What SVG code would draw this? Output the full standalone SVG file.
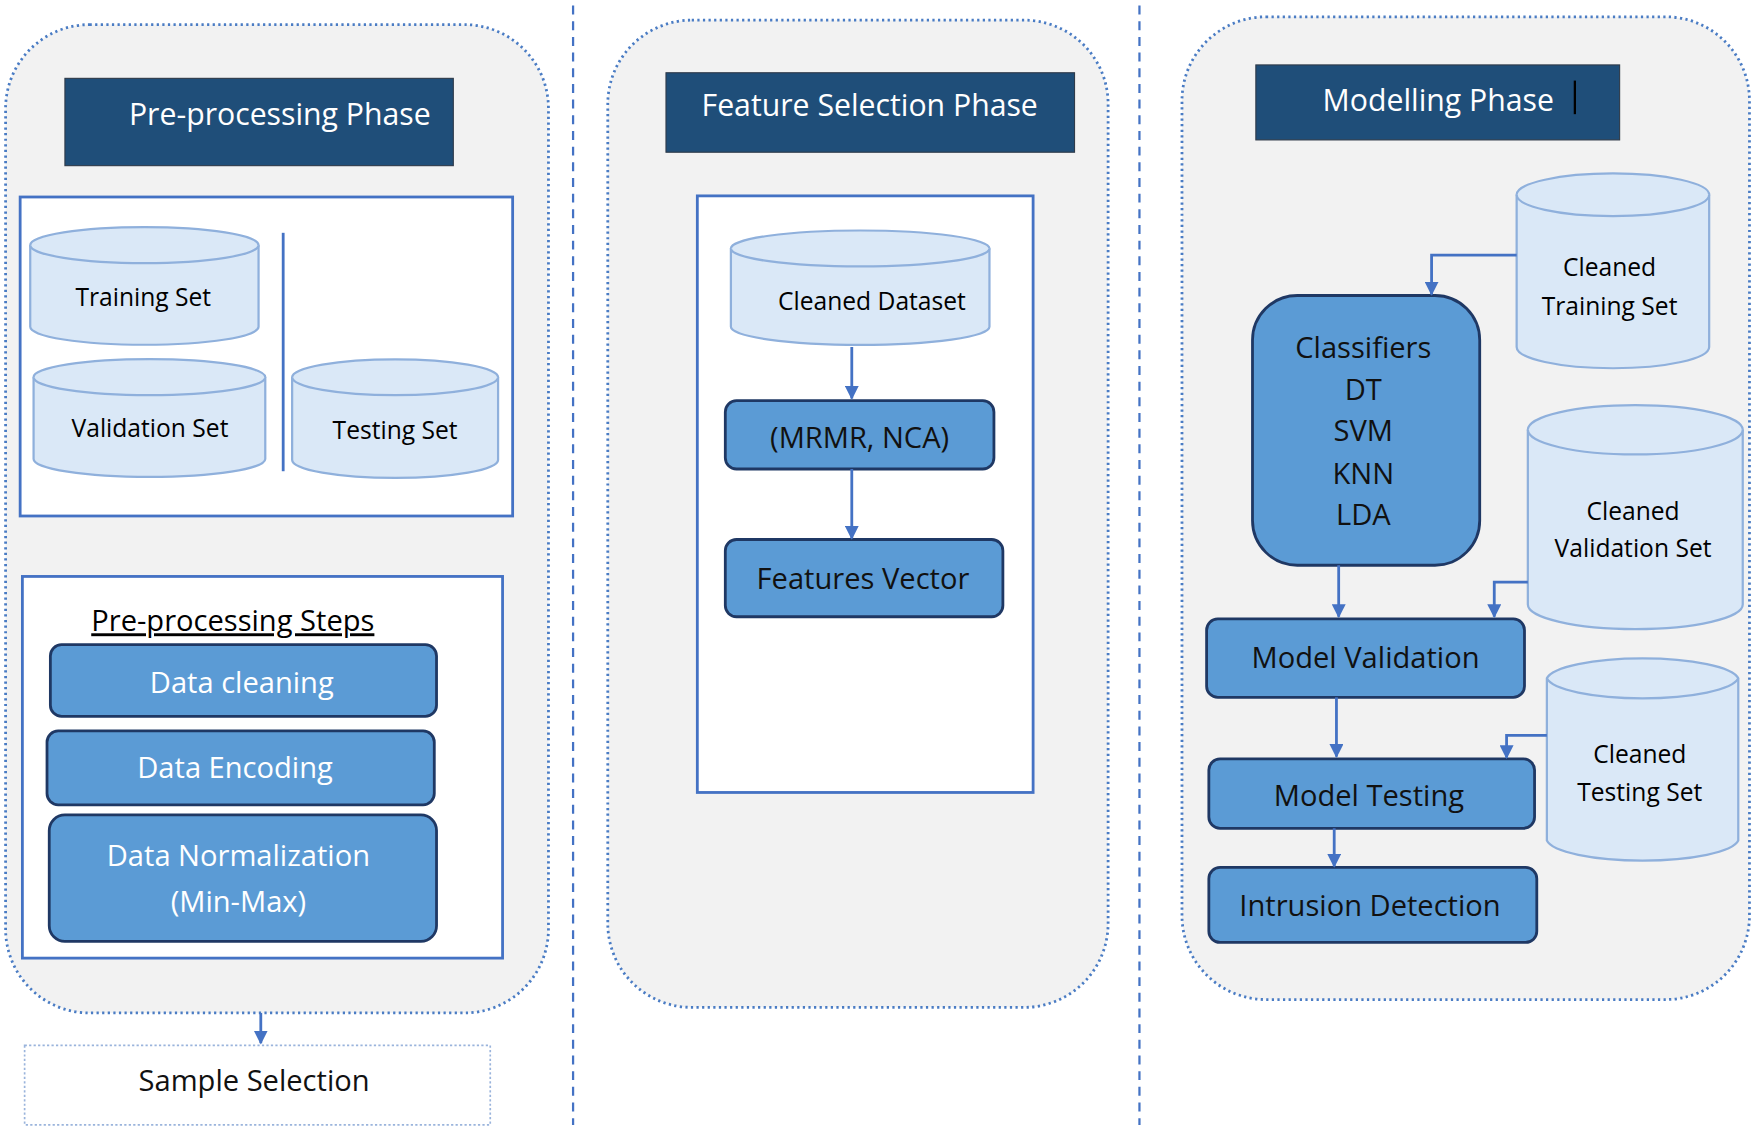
<svg xmlns="http://www.w3.org/2000/svg" width="1755" height="1130" viewBox="0 0 1755 1130">
<defs>
<style>
.panel{fill:#f2f2f2;stroke:#4a7cc4;stroke-width:2.5;stroke-dasharray:2 3}
.title{fill:#1f4e79;stroke:#2f3b4a;stroke-width:1}
.tt{fill:#fff;font-family:"Open Sans","Liberation Sans",sans-serif;font-size:27px;text-anchor:middle}
.wb{fill:#fff;stroke:#4472c4;stroke-width:2.5}
.cyl{fill:#dae8f7;stroke:#8fb0dc;stroke-width:2}
.ct{fill:#000;font-family:"Open Sans","Liberation Sans",sans-serif;font-size:22px;text-anchor:middle}
.btn{fill:#5b9bd5;stroke:#1f3864;stroke-width:2.5}
.bw{fill:#fff;font-family:"Open Sans","Liberation Sans",sans-serif;font-size:26px;text-anchor:middle}
.bk{fill:#111;font-family:"Open Sans","Liberation Sans",sans-serif;font-size:26px;text-anchor:middle}
.con{fill:none;stroke:#4472c4;stroke-width:2.5}
</style>
<marker id="ar" viewBox="0 0 10 10" refX="9" refY="5" markerWidth="5" markerHeight="5" orient="auto"><path d="M0,0L10,5L0,10z" fill="#4472c4"/></marker>
</defs>
<rect width="1755" height="1130" fill="#fff"/>
<g transform="scale(1.1193)">
<g id="dividers">
<line x1="512" y1="5" x2="512" y2="1005" stroke="#4472c4" stroke-width="2" stroke-dasharray="8 6"/>
<line x1="1018" y1="5" x2="1018" y2="1005" stroke="#4472c4" stroke-width="2" stroke-dasharray="8 6"/>
</g>
<g id="panel1">
<rect class="panel" x="5" y="22" width="485" height="883" rx="75"/>
<rect class="title" x="58" y="70" width="347" height="78"/>
<text class="tt" x="250" y="112">Pre-processing Phase</text>
<rect class="wb" x="18" y="176" width="440" height="285"/>
<line x1="253" y1="208" x2="253" y2="421" stroke="#4472c4" stroke-width="2.5"/>
<rect class="wb" x="20" y="515" width="429" height="341"/>
<text x="208" y="564" font-family="Open Sans, Liberation Sans, sans-serif" font-size="26" text-anchor="middle" text-decoration="underline" fill="#000">Pre-processing Steps</text>
</g>
<g id="training-set"><path class="cyl" d="M27,219 A102,16 0 0 1 231,219 V292 A102,16 0 0 1 27,292 Z"/><path class="cyl" d="M27,219 A102,16 0 0 0 231,219" fill="none"/><text class="ct" x="128" y="273">Training Set</text></g>
<g id="validation-set"><path class="cyl" d="M30,337 A103,16 0 0 1 237,337 V410 A103,16 0 0 1 30,410 Z"/><path class="cyl" d="M30,337 A103,16 0 0 0 237,337" fill="none"/><text class="ct" x="134" y="390">Validation Set</text></g>
<g id="testing-set"><path class="cyl" d="M261,337 A92,16 0 0 1 445,337 V411 A92,16 0 0 1 261,411 Z"/><path class="cyl" d="M261,337 A92,16 0 0 0 445,337" fill="none"/><text class="ct" x="353" y="392">Testing Set</text></g>
<g id="data-cleaning"><rect class="btn" x="45" y="576" width="345" height="64" rx="10"/><text class="bw" x="216" y="619">Data cleaning</text></g>
<g id="data-encoding"><rect class="btn" x="42" y="653" width="346" height="66" rx="10"/><text class="bw" x="210" y="695">Data Encoding</text></g>
<g id="data-normalization"><rect class="btn" x="44" y="728" width="346" height="113" rx="14"/><text class="bw" x="213" y="774">Data Normalization</text><text class="bw" x="213" y="815">(Min-Max)</text></g>
<g id="sample-selection"><rect x="22" y="934" width="416" height="71" fill="#fff" stroke="#9ab4dc" stroke-width="1.5" stroke-dasharray="2 2"/><text class="bk" x="227" y="975">Sample Selection</text></g>
<g id="panel2">
<rect class="panel" x="543" y="18" width="447" height="882" rx="75"/>
<rect class="title" x="595" y="65" width="365" height="71"/>
<text class="tt" x="777" y="104">Feature Selection Phase</text>
<rect class="wb" x="623" y="175" width="300" height="533"/>
</g>
<g id="cleaned-dataset"><path class="cyl" d="M653,222 A115,16 0 0 1 884,222 V292 A115,16 0 0 1 653,292 Z"/><path class="cyl" d="M653,222 A115,16 0 0 0 884,222" fill="none"/><text class="ct" x="779" y="277">Cleaned Dataset</text></g>
<g id="mrmr"><rect class="btn" x="648" y="358" width="240" height="61" rx="10"/><text class="bk" x="768" y="400">(MRMR, NCA)</text></g>
<g id="features-vector"><rect class="btn" x="648" y="482" width="248" height="69" rx="10"/><text class="bk" x="771" y="526">Features Vector</text></g>
<g id="panel3">
<rect class="panel" x="1056" y="15" width="507" height="878" rx="75"/>
<rect class="title" x="1122" y="58" width="325" height="67"/>
<text class="tt" x="1285" y="99">Modelling Phase</text>
<line x1="1407" y1="72" x2="1407" y2="102" stroke="#000" stroke-width="2"/>
</g>
<g id="cleaned-training"><path class="cyl" d="M1355,174 A86,19 0 0 1 1527,174 V310 A86,19 0 0 1 1355,310 Z"/><path class="cyl" d="M1355,174 A86,19 0 0 0 1527,174" fill="none"/><text class="ct" x="1438" y="247">Cleaned</text><text class="ct" x="1438" y="281">Training Set</text></g>
<g id="cleaned-validation"><path class="cyl" d="M1365,384 A96,22 0 0 1 1557,384 V540 A96,22 0 0 1 1365,540 Z"/><path class="cyl" d="M1365,384 A96,22 0 0 0 1557,384" fill="none"/><text class="ct" x="1459" y="465">Cleaned</text><text class="ct" x="1459" y="498">Validation Set</text></g>
<g id="cleaned-testing"><path class="cyl" d="M1382,606 A86,20 0 0 1 1553,606 V751 A86,20 0 0 1 1382,751 Z"/><path class="cyl" d="M1382,606 A86,20 0 0 0 1553,606" fill="none"/><text class="ct" x="1465" y="682">Cleaned</text><text class="ct" x="1465" y="716">Testing Set</text></g>
<g id="classifiers"><rect class="btn" x="1119" y="264" width="203" height="241" rx="40"/>
<text class="bk" x="1218" y="320">Classifiers</text><text class="bk" x="1218" y="357">DT</text><text class="bk" x="1218" y="394">SVM</text><text class="bk" x="1218" y="432">KNN</text><text class="bk" x="1218" y="469">LDA</text></g>
<g id="model-validation"><rect class="btn" x="1078" y="553" width="284" height="70" rx="10"/><text class="bk" x="1220" y="597">Model Validation</text></g>
<g id="model-testing"><rect class="btn" x="1080" y="678" width="291" height="62" rx="10"/><text class="bk" x="1223" y="720">Model Testing</text></g>
<g id="intrusion-detection"><rect class="btn" x="1080" y="775" width="293" height="67" rx="10"/><text class="bk" x="1224" y="818">Intrusion Detection</text></g>
<g id="connectors">
<path class="con" marker-end="url(#ar)" d="M233,905 V932"/>
<path class="con" marker-end="url(#ar)" d="M761,310 V356"/>
<path class="con" marker-end="url(#ar)" d="M761,419 V481"/>
<path class="con" marker-end="url(#ar)" d="M1355,228 H1279 V263"/>
<path class="con" marker-end="url(#ar)" d="M1196,505 V551"/>
<path class="con" marker-end="url(#ar)" d="M1365,520 H1335 V551"/>
<path class="con" marker-end="url(#ar)" d="M1194,623 V676"/>
<path class="con" marker-end="url(#ar)" d="M1382,657 H1346 V677"/>
<path class="con" marker-end="url(#ar)" d="M1192,740 V774"/>
</g>
</g>
</svg>
